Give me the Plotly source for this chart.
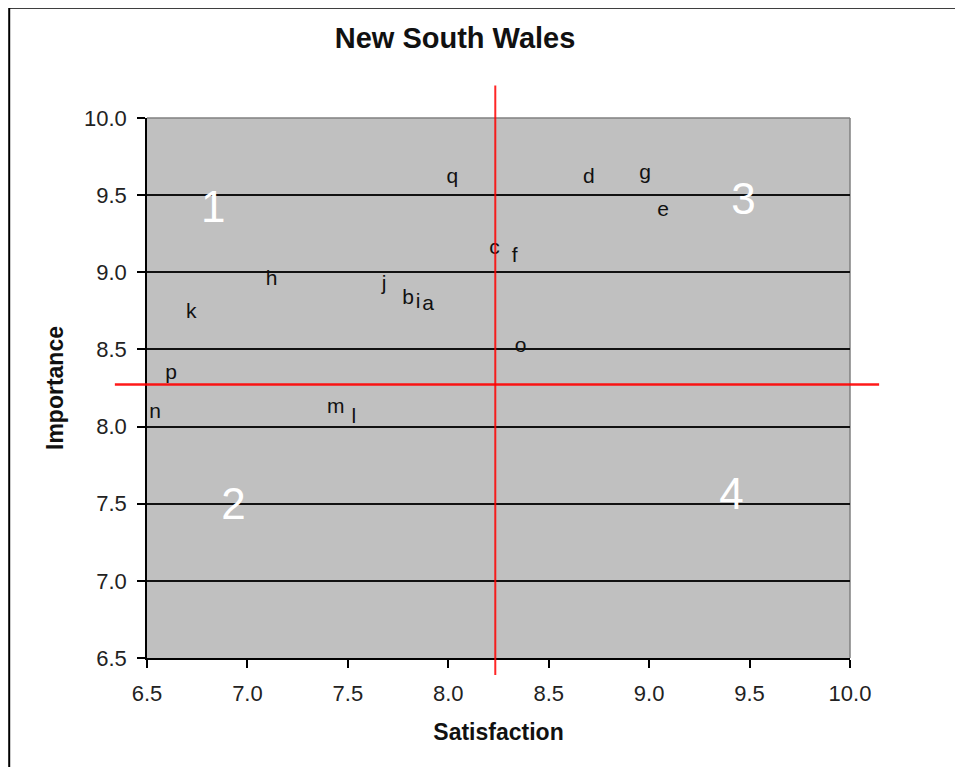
import plotly.graph_objects as go

# ---- data ----
labels = ["a", "b", "c", "d", "e", "f", "g", "h", "i", "j", "k", "l", "m", "n", "o", "p", "q"]
satisfaction = [7.90, 7.80, 8.23, 8.70, 9.07, 8.33, 8.98, 7.12, 7.85, 7.68, 6.72, 7.53, 7.44, 6.54, 8.36, 6.62, 8.02]
importance = [8.79, 8.83, 9.15, 9.61, 9.40, 9.10, 9.64, 8.95, 8.80, 8.92, 8.74, 8.06, 8.12, 8.09, 8.52, 8.34, 9.61]

quadrant_labels = ["1", "2", "3", "4"]
quadrant_x = [6.83, 6.93, 9.47, 9.41]
quadrant_y = [9.40, 7.47, 9.45, 7.54]

sat_threshold = 8.234
imp_threshold = 8.273
vline_y = [6.39, 10.21]
hline_x = [6.34, 10.145]

x_range = [6.5, 10.0]
y_range = [6.5, 10.0]
x_ticks = [6.5, 7.0, 7.5, 8.0, 8.5, 9.0, 9.5, 10.0]
y_ticks = [6.5, 7.0, 7.5, 8.0, 8.5, 9.0, 9.5, 10.0]

FONT = "Liberation Sans, Arial, sans-serif"


def to_px(v, rng):
    # convert a data value to a paper fraction (so the line is not clipped)
    return (v - rng[0]) / (rng[1] - rng[0])


fig = go.Figure()
fig.add_trace(go.Scatter(
    x=satisfaction, y=importance, mode="text", text=labels,
    textposition="middle center",
    textfont=dict(family=FONT, size=21, color="#111111"),
    hoverinfo="skip", showlegend=False, cliponaxis=False,
))
fig.add_trace(go.Scatter(
    x=quadrant_x, y=quadrant_y, mode="text", text=quadrant_labels,
    textposition="middle center",
    textfont=dict(family=FONT, size=44, color="white"),
    hoverinfo="skip", showlegend=False,
))

# quadrant dividing lines (extend beyond plot area as in the original)
fig.add_shape(type="line", xref="paper", yref="paper",
              x0=to_px(sat_threshold, x_range), x1=to_px(sat_threshold, x_range),
              y0=to_px(vline_y[0], y_range), y1=to_px(vline_y[1], y_range),
              line=dict(color="rgba(255,0,0,0.85)", width=2), layer="above")
fig.add_shape(type="line", xref="paper", yref="paper",
              x0=to_px(hline_x[0], x_range), x1=to_px(hline_x[1], x_range),
              y0=to_px(imp_threshold, y_range), y1=to_px(imp_threshold, y_range),
              line=dict(color="rgba(255,0,0,0.9)", width=2.5), layer="above")

# grey top/right plot border
fig.add_shape(type="line", xref="paper", yref="paper", x0=0, x1=1, y0=1, y1=1,
              line=dict(color="#808080", width=1.5), layer="below")
fig.add_shape(type="line", xref="paper", yref="paper", x0=1, x1=1, y0=0, y1=1,
              line=dict(color="#808080", width=1.5), layer="below")

# outer chart border (cut off at right/bottom)
fig.add_shape(type="rect", xref="paper", yref="paper",
              x0=-0.196, x1=1.6, y0=-0.6, y1=1.204,
              line=dict(color="black", width=2), fillcolor="rgba(0,0,0,0)")

fig.update_layout(
    width=963, height=767,
    margin=dict(l=139, r=121, t=110, b=117),
    paper_bgcolor="white", plot_bgcolor="#c0c0c0",
    font=dict(family=FONT, color="#222222"),
    title=dict(text="<b>New South Wales</b>", xref="container", x=0.4642,
               yref="container", y=1 - 30 / 767, xanchor="center", yanchor="middle",
               font=dict(family=FONT, size=29, color="#111111")),
    showlegend=False,
)
fig.update_xaxes(
    range=x_range, tickvals=x_ticks, ticktext=[f"{v:.1f}" for v in x_ticks],
    showgrid=False, zeroline=False, showline=True, linecolor="black", linewidth=1.5,
    ticks="outside", ticklen=8, tickcolor="black", tickwidth=1.5,
    ticklabelstandoff=7,
    tickfont=dict(family=FONT, size=22, color="#222222"),
    title=dict(text="<b>Satisfaction</b>", standoff=19,
               font=dict(family=FONT, size=23, color="#111111")),
)
fig.update_yaxes(
    range=y_range, tickvals=y_ticks, ticktext=[f"{v:.1f}" for v in y_ticks],
    showgrid=True, gridcolor="#111111", gridwidth=1.5,
    zeroline=False, showline=True, linecolor="black", linewidth=1.5,
    ticks="outside", ticklen=8, tickcolor="black", tickwidth=1.5,
    ticklabelstandoff=6,
    tickfont=dict(family=FONT, size=22, color="#222222"),
    title=dict(text="<b>Importance</b>", standoff=14,
               font=dict(family=FONT, size=23, color="#111111")),
)

fig.write_html("out.html")
